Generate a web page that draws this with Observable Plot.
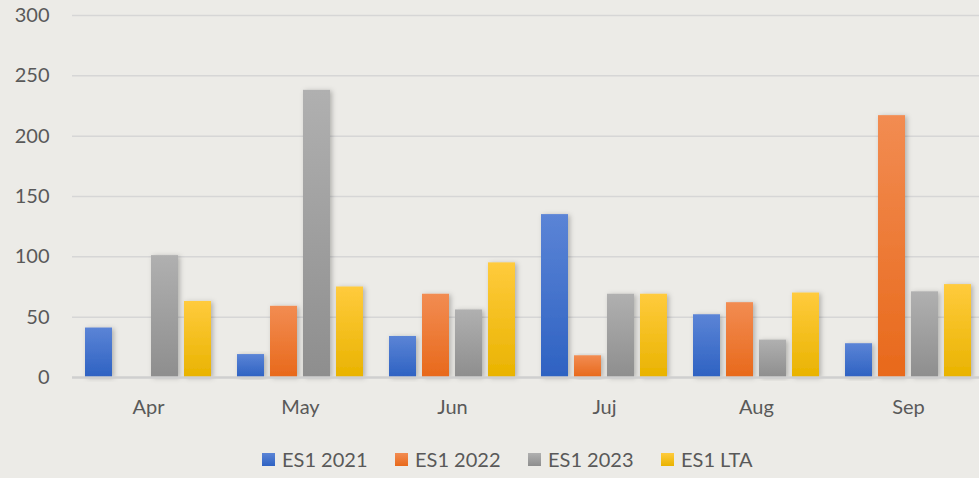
<!DOCTYPE html>
<html>
<head>
<meta charset="utf-8">
<script src="https://cdn.jsdelivr.net/npm/d3@7"></script>
<script src="https://cdn.jsdelivr.net/npm/@observablehq/plot@0.6"></script>
<style>
  html, body { margin: 0; padding: 0; }
  body { width: 979px; height: 478px; overflow: hidden; background: #ecebe7; font-family: Lato, "Open Sans", sans-serif; }
  #chart svg { display: block; overflow: visible; }
  #legend { display: flex; justify-content: flex-start; gap: 0; padding-left: 262px; height: 38px; align-items: center; font-size: 20px; color: #595959; }
  .item { display: flex; align-items: center; width: 133px; }
  .sw { width: 13px; height: 13px; margin-right: 7px; }
</style>
</head>
<body>
<div id="chart"></div>
<div id="legend"></div>
<script>
const months = ["Apr", "May", "Jun", "Juj", "Aug", "Sep"];
const seriesNames = ["ES1 2021", "ES1 2022", "ES1 2023", "ES1 LTA"];
const es2021 = [41, 19, 34, 135, 52, 28];
const es2022 = [null, 59, 69, 18, 62, 217];
const es2023 = [101, 238, 56, 69, 31, 71];
const esLTA = [63, 75, 95, 69, 70, 77];
const yTicks = [0, 50, 100, 150, 200, 250, 300];
const seriesColors = [["#5b84d6", "#2e62c2"], ["#f28c52", "#e8691b"], ["#b0b0b0", "#8e8e8e"], ["#ffcb3d", "#e9b300"]];

const seriesValues = [es2021, es2022, es2023, esLTA];
const data = [];
months.forEach((m, i) => {
  seriesNames.forEach((s, j) => {
    const v = seriesValues[j][i];
    if (v != null) data.push({month: m, series: s, value: v});
  });
});

const chart = Plot.plot({
  width: 979,
  height: 440,
  marginTop: 15,
  marginBottom: 63,
  marginLeft: 70,
  marginRight: -7,
  style: {background: "transparent", fontFamily: "Lato, 'Open Sans', sans-serif", fontSize: "20px", color: "#595959", overflow: "visible"},
  fx: {domain: months, padding: 0, label: null, axis: "bottom", tickSize: 0, tickPadding: 22},
  x: {domain: seriesNames, paddingInner: 0.17, paddingOuter: 0.38, axis: null},
  y: {domain: [0, 300], ticks: yTicks, label: null, tickSize: 0, tickPadding: 23},
  color: {domain: seriesNames, range: seriesNames.map((_, i) => `url(#grad${i})`)},
  marks: [
    Plot.gridY(yTicks.filter(t => t > 0), {stroke: "#d6d6d6", strokeOpacity: 1, strokeWidth: 1.5, facet: "exclude"}),
    Plot.barY(data, {fx: "month", x: "series", y: "value", fill: "series"}),
    Plot.ruleY([0], {stroke: "#cfcfcf", strokeWidth: 2.5})
  ]
});

const svg = d3.select(chart);
const defs = svg.insert("defs", ":first-child");
seriesColors.forEach((c, i) => {
  const g = defs.append("linearGradient").attr("id", `grad${i}`).attr("x1", 0).attr("y1", 0).attr("x2", 0).attr("y2", 1);
  g.append("stop").attr("offset", "0%").attr("stop-color", c[0]);
  g.append("stop").attr("offset", "100%").attr("stop-color", c[1]);
});
const f = defs.append("filter").attr("id", "shadow").attr("x", "-30%").attr("y", "-10%").attr("width", "160%").attr("height", "120%");
f.append("feDropShadow").attr("dx", 2).attr("dy", 1).attr("stdDeviation", 2.5).attr("flood-color", "#000").attr("flood-opacity", 0.25);
svg.selectAll("rect").attr("filter", "url(#shadow)");
svg.selectAll("text").attr("fill", "#595959");

document.getElementById("chart").appendChild(chart);

const legend = document.getElementById("legend");
seriesNames.forEach((s, i) => {
  const item = document.createElement("div");
  item.className = "item";
  const sw = document.createElement("span");
  sw.className = "sw";
  sw.style.background = `linear-gradient(${seriesColors[i][0]}, ${seriesColors[i][1]})`;
  const t = document.createElement("span");
  t.textContent = s;
  item.appendChild(sw);
  item.appendChild(t);
  legend.appendChild(item);
});
</script>
</body>
</html>
